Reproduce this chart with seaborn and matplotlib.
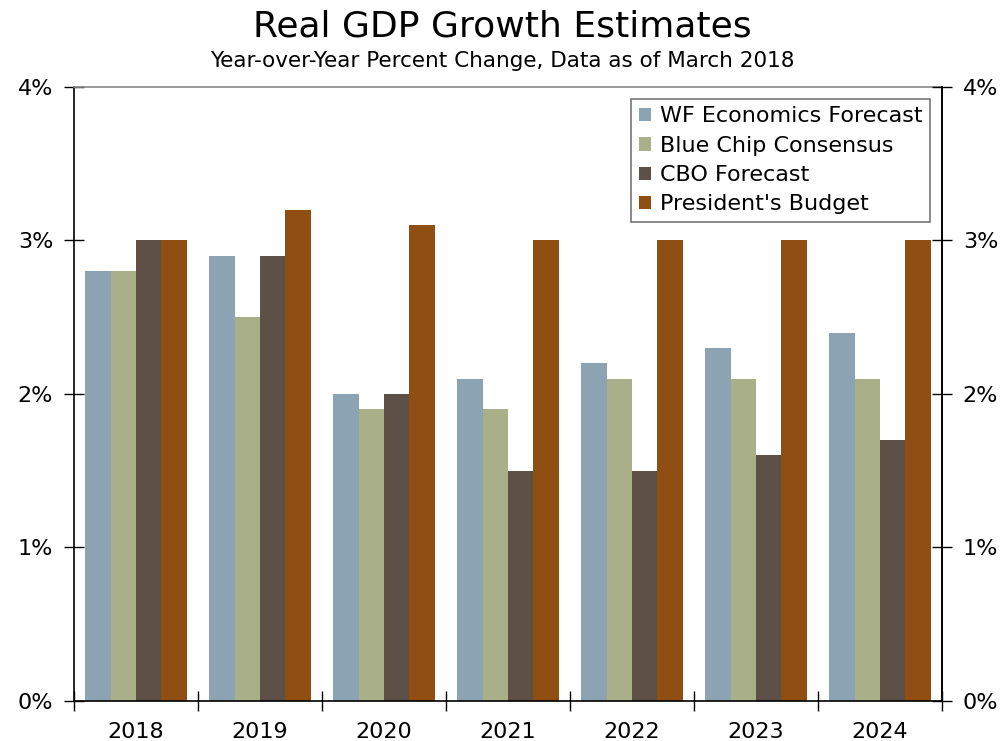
import matplotlib
matplotlib.use("Agg")
import matplotlib.pyplot as plt
import seaborn as sns
import pandas as pd
import numpy as np
from matplotlib.ticker import FixedLocator, FuncFormatter

years = ["2018", "2019", "2020", "2021", "2022", "2023", "2024"]
wf = [2.8, 2.9, 2.0, 2.1, 2.2, 2.3, 2.4]
blue_chip = [2.8, 2.5, 1.9, 1.9, 2.1, 2.1, 2.1]
cbo = [3.0, 2.9, 2.0, 1.5, 1.5, 1.6, 1.7]
budget = [3.0, 3.2, 3.1, 3.0, 3.0, 3.0, 3.0]
series_names = ["WF Economics Forecast", "Blue Chip Consensus", "CBO Forecast", "President's Budget"]
colors = ["#8BA3B2", "#A9AF88", "#5D5046", "#8F4F13"]

rows = []
for name, vals in zip(series_names, [wf, blue_chip, cbo, budget]):
    for y, v in zip(years, vals):
        rows.append({"Year": y, "Series": name, "Value": v})
df = pd.DataFrame(rows)

sns.set_style("white")
plt.rcParams['font.family'] = ['DejaVu Sans']
plt.rcParams['text.color'] = 'black'
plt.rcParams['xtick.color'] = 'black'
plt.rcParams['ytick.color'] = 'black'
plt.rcParams['xtick.labelcolor'] = 'black'
plt.rcParams['ytick.labelcolor'] = 'black'

fig = plt.figure(figsize=(10.05, 7.41), dpi=100)
ax = fig.add_axes([0.0736, 0.054, 0.8637, 0.8286])
sns.barplot(data=df, x="Year", y="Value", hue="Series", hue_order=series_names,
            palette=colors, width=0.82, saturation=1, ax=ax, edgecolor="none", legend=True)

ax.set_ylim(0, 4)
ax.set_xlim(-0.5, len(years) - 0.5)
ax.set_xlabel("")
ax.set_ylabel("")
yt = [0, 1, 2, 3, 4]
fmt = FuncFormatter(lambda v, p: f"{int(v)}%")
ax.yaxis.set_major_locator(FixedLocator(yt))
ax.yaxis.set_major_formatter(fmt)
ax.tick_params(axis="y", direction="inout", length=14, width=1, labelsize=16, pad=8, left=True)
ax.xaxis.set_minor_locator(FixedLocator(np.arange(-0.5, len(years), 1.0)))
ax.tick_params(axis="x", which="major", length=0, labelsize=16, pad=15)
ax.tick_params(axis="x", which="minor", direction="inout", length=14, width=1, bottom=True)

for s in ["left", "right", "bottom"]:
    ax.spines[s].set_color("black")
    ax.spines[s].set_linewidth(1.2)
ax.spines["top"].set_color("#888888")
ax.spines["top"].set_linewidth(1.2)

ax2 = ax.twinx()
ax2.set_ylim(0, 4)
ax2.yaxis.set_major_locator(FixedLocator(yt))
ax2.yaxis.set_major_formatter(fmt)
ax2.tick_params(axis="y", direction="inout", length=14, width=1, labelsize=16, pad=8, right=True)
for s in ["left", "top", "bottom"]:
    ax2.spines[s].set_visible(False)
ax2.spines["right"].set_color("black")
ax2.spines["right"].set_linewidth(1.2)

leg = ax.legend(loc="upper right", bbox_to_anchor=(0.9865, 0.981), fontsize=16, frameon=True,
                fancybox=False, edgecolor="#555555", handlelength=0.55, handleheight=0.55,
                handletextpad=0.4, labelspacing=0.42, borderpad=0.35, borderaxespad=0.0)
leg.get_frame().set_linewidth(1.2)

fig.text(0.5, 0.951, "Real GDP Growth Estimates", ha="center", va="baseline", fontsize=26)
fig.text(0.5, 0.909, "Year-over-Year Percent Change, Data as of March 2018", ha="center",
         va="baseline", fontsize=15.5)

fig.savefig("out.png", dpi=100)
